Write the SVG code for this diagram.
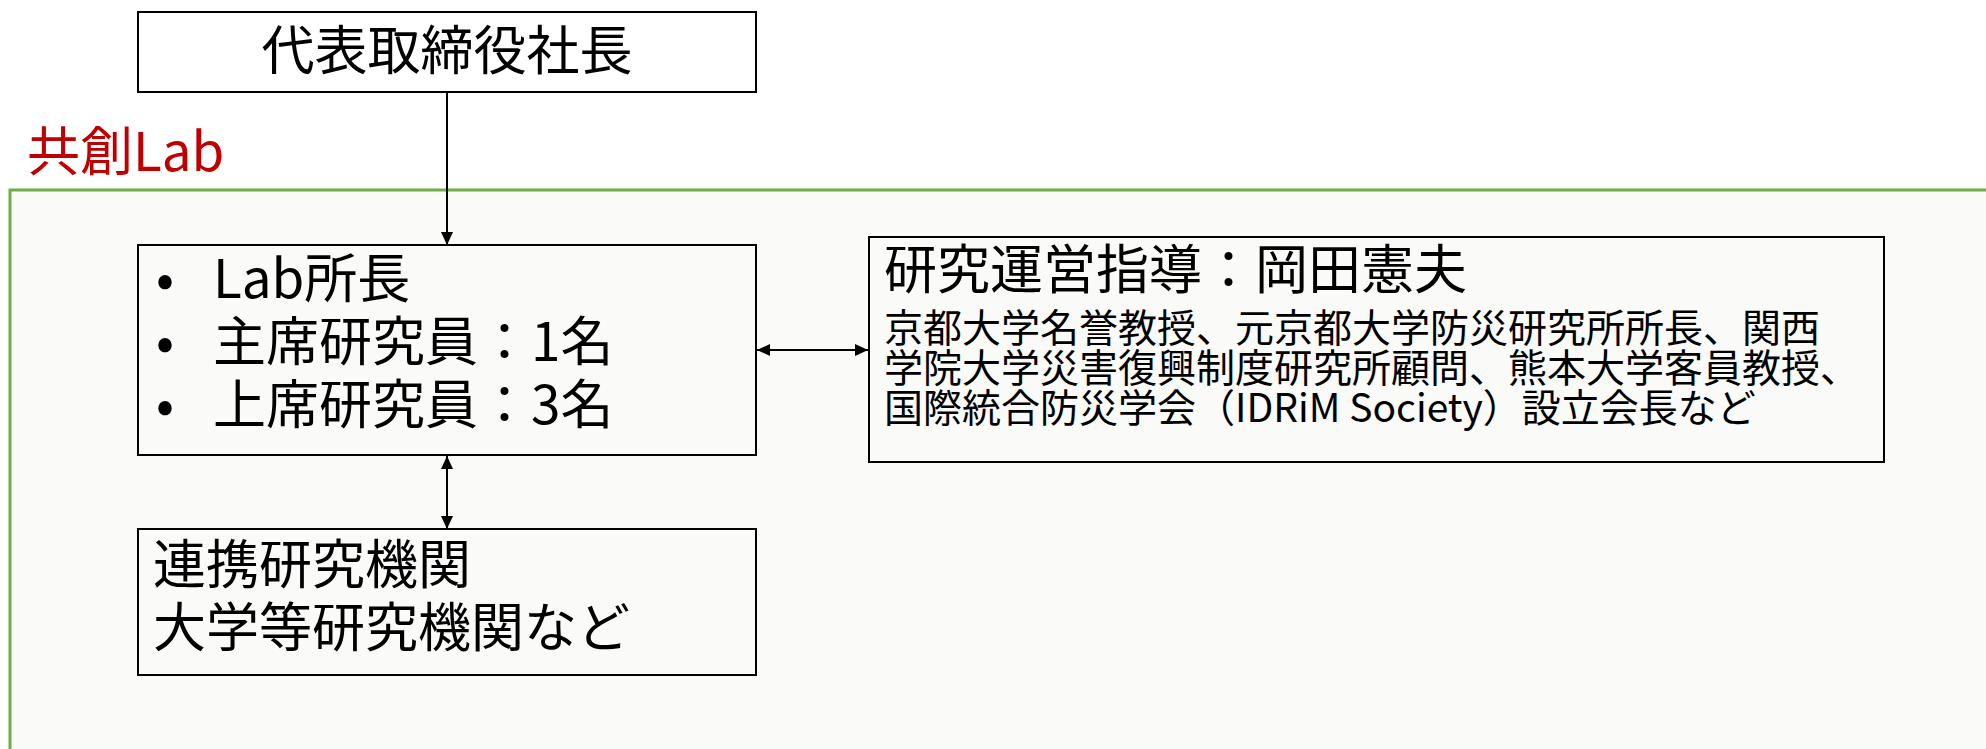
<svg xmlns="http://www.w3.org/2000/svg" width="1986" height="749" viewBox="0 0 1986 749">
<style>
text{font-family:"Noto Sans CJK JP","Noto Sans",sans-serif;fill:#000}
.box{fill:#FAFAF8;stroke:#000;stroke-width:2}
.big{font-size:53px}
.sub{font-size:39px}
.conn{stroke:#000;stroke-width:2;fill:none}
</style>
<defs>
<marker id="ah" viewBox="0 0 13 12" refX="13" refY="6" markerWidth="13" markerHeight="12" markerUnits="userSpaceOnUse" orient="auto-start-reverse">
<path d="M0,0 L13,6 L0,12 Z" fill="#000"/>
</marker>
</defs>
<rect x="0" y="0" width="1986" height="749" fill="#fff"/>
<g id="lab-frame">
<rect x="10" y="190" width="2000" height="600" fill="#FAFAF8" stroke="#70AD47" stroke-width="3"/>
<text x="27" y="171" font-size="53" style="fill:#C00000">共創Lab</text>
</g>
<g id="president">
<rect class="box" x="138" y="12" width="618" height="80" style="fill:#fff"/>
<text class="big" x="447" y="70" text-anchor="middle">代表取締役社長</text>
</g>
<g id="lab-head">
<rect class="box" x="138" y="245" width="618" height="210"/>
<text class="big"><tspan x="156" y="298">•</tspan><tspan x="213" y="298">Lab所長</tspan><tspan x="156" y="361">•</tspan><tspan x="213" y="361">主席研究員：1名</tspan><tspan x="156" y="424">•</tspan><tspan x="213" y="424">上席研究員：3名</tspan></text>
</g>
<g id="advisor">
<rect class="box" x="869" y="237" width="1015" height="225"/>
<text class="big" x="884" y="289">研究運営指導：岡田憲夫</text>
<text class="sub"><tspan x="884" y="342">京都大学名誉教授、元京都大学防災研究所所長、関西</tspan><tspan x="884" y="382">学院大学災害復興制度研究所顧問、熊本大学客員教授、</tspan><tspan x="884" y="422">国際統合防災学会（IDRiM Society）設立会長など</tspan></text>
</g>
<g id="partners">
<rect class="box" x="138" y="529" width="618" height="146"/>
<text class="big"><tspan x="153" y="584">連携研究機関</tspan><tspan x="153" y="647">大学等研究機関など</tspan></text>
</g>
<g id="connectors">
<line class="conn" x1="447" y1="92" x2="447" y2="245" marker-end="url(#ah)"/>
<line class="conn" x1="757" y1="350" x2="868" y2="350" marker-start="url(#ah)" marker-end="url(#ah)"/>
<line class="conn" x1="447" y1="456" x2="447" y2="529" marker-start="url(#ah)" marker-end="url(#ah)"/>
</g>
</svg>
